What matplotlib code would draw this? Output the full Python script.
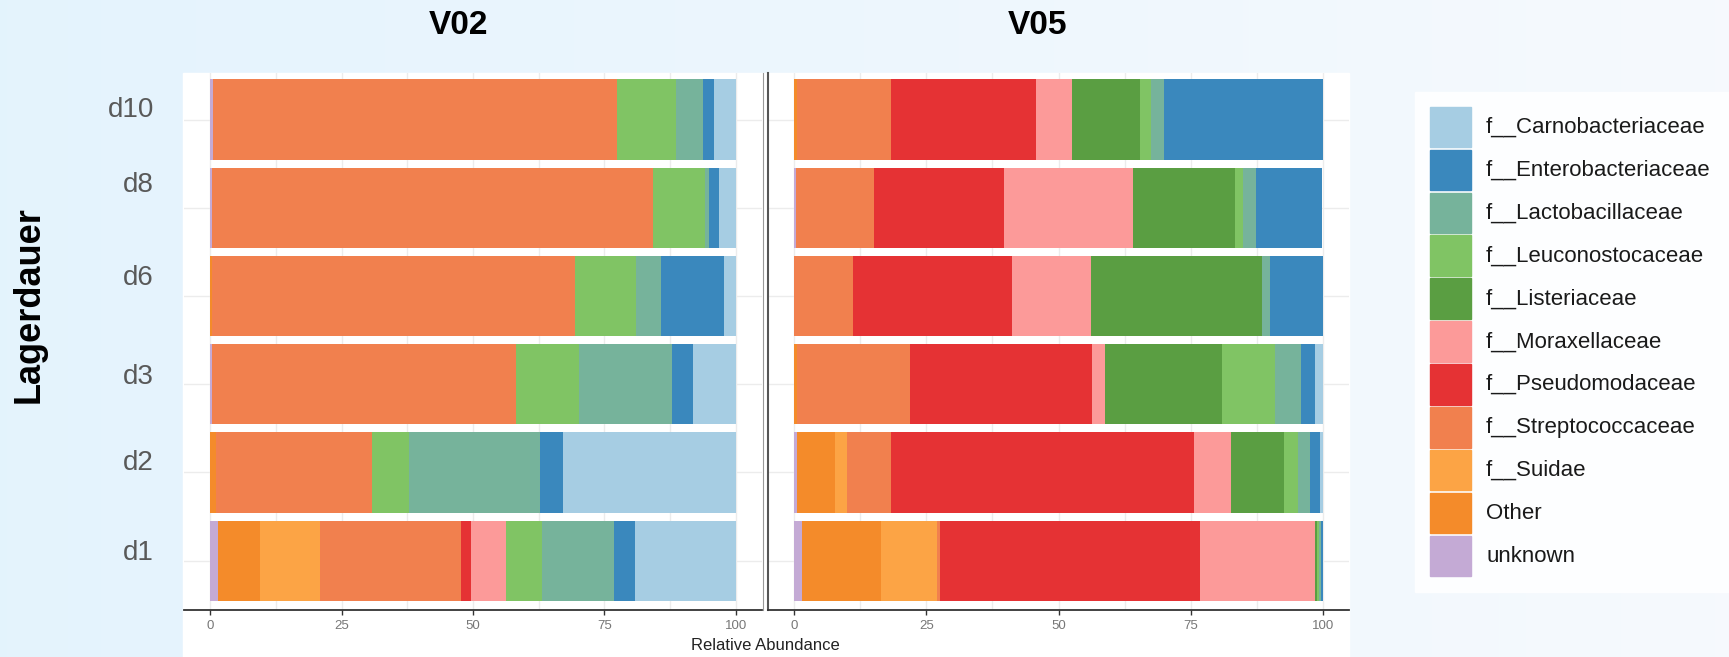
import numpy as np
import matplotlib
matplotlib.use("Agg")
import matplotlib.pyplot as plt
from matplotlib.patches import Rectangle
from matplotlib.lines import Line2D

# ---------------- data ----------------
days = ["d1", "d2", "d3", "d6", "d8", "d10"]
families = ["f__Carnobacteriaceae", "f__Enterobacteriaceae", "f__Lactobacillaceae",
            "f__Leuconostocaceae", "f__Listeriaceae", "f__Moraxellaceae",
            "f__Pseudomodaceae", "f__Streptococcaceae", "f__Suidae", "Other", "unknown"]
colors = ["#a6cde3", "#3a88bd", "#76b39b", "#80c464", "#5a9e42", "#fc9a99",
          "#e53234", "#f1804e", "#fca445", "#f48b2a", "#c4aad5"]

# values per family, ordered like `days`
v02_carno  = [19.1, 32.9, 8.1, 2.3, 3.2, 4.1]
v02_entero = [4.1, 4.4, 4.0, 11.9, 1.9, 2.1]
v02_lacto  = [13.6, 24.9, 17.7, 4.8, 0.7, 5.2]
v02_leucon = [7.0, 7.1, 12.1, 11.5, 10.0, 11.2]
v02_lister = [0.0, 0.0, 0.0, 0.0, 0.0, 0.0]
v02_morax  = [6.6, 0.0, 0.0, 0.0, 0.0, 0.0]
v02_pseudo = [1.8, 0.0, 0.0, 0.0, 0.0, 0.0]
v02_strep  = [26.9, 29.7, 57.7, 69.2, 83.8, 76.9]
v02_suidae = [11.4, 0.0, 0.0, 0.0, 0.0, 0.0]
v02_other  = [8.1, 1.0, 0.0, 0.3, 0.0, 0.0]
v02_unknown = [1.4, 0.0, 0.4, 0.0, 0.4, 0.5]

v05_carno  = [0.0, 0.5, 1.5, 0.0, 0.0, 0.0]
v05_entero = [0.3, 1.9, 2.5, 10.0, 12.5, 30.1]
v05_lacto  = [0.4, 2.3, 5.0, 1.4, 2.6, 2.3]
v05_leucon = [0.3, 2.7, 10.1, 0.0, 1.4, 2.2]
v05_lister = [0.4, 9.9, 22.1, 32.5, 19.4, 12.9]
v05_morax  = [21.9, 7.0, 2.5, 14.9, 24.4, 6.7]
v05_pseudo = [49.1, 57.4, 34.4, 30.2, 24.6, 27.5]
v05_strep  = [0.6, 8.3, 21.4, 11.0, 14.7, 17.8]
v05_suidae = [10.7, 2.3, 0.0, 0.0, 0.0, 0.0]
v05_other  = [14.8, 7.2, 0.5, 0.0, 0.0, 0.5]
v05_unknown = [1.5, 0.5, 0.0, 0.0, 0.35, 0.0]

v02 = [v02_carno, v02_entero, v02_lacto, v02_leucon, v02_lister, v02_morax,
       v02_pseudo, v02_strep, v02_suidae, v02_other, v02_unknown]
v05 = [v05_carno, v05_entero, v05_lacto, v05_leucon, v05_lister, v05_morax,
       v05_pseudo, v05_strep, v05_suidae, v05_other, v05_unknown]
x_ticks = [0, 25, 50, 75, 100]

# ---------------- figure ----------------
W, H = 1729, 657
fig = plt.figure(figsize=(W / 100, H / 100), dpi=100)

def fx(x):
    return x / W

def fy(y):
    return 1 - y / H

# gradient background
bg = fig.add_axes([0, 0, 1, 1], zorder=-10)
grad = np.linspace(0, 1, 256)
c0 = np.array([0.894, 0.953, 0.992])
c1 = np.array([0.965, 0.980, 0.996])
img = c0[None, :] + (c1 - c0)[None, :] * grad[:, None]
bg.imshow(img[None, :, :], aspect="auto", extent=[0, 1, 0, 1])
bg.set_xlim(0, 1); bg.set_ylim(0, 1)
bg.axis("off")
# white plot area & legend box
bg.add_patch(Rectangle((fx(183), 0), fx(1349) - fx(183), fy(73), color="white", zorder=1))
bg.add_patch(Rectangle((fx(1415), fy(592)), fx(1729) - fx(1415), fy(92) - fy(592),
                       color="#fdfeff", zorder=1))

font = "Liberation Sans"
narrow = ["Liberation Sans Narrow", "Liberation Sans"]

ylo, yhi = 0.441, 6.528
pos = np.arange(1, len(days) + 1)

def panel(rect, data, left_spine):
    ax = fig.add_axes(rect)
    ax.set_facecolor("white")
    ax.set_xlim(-5, 105)
    ax.set_ylim(ylo, yhi)
    for xg in np.arange(0, 100.1, 12.5):
        ax.axvline(xg, color="#ececec", lw=1.0, zorder=0)
    for p in pos:
        ax.axhline(p, color="#ececec", lw=1.0, zorder=0)
    left = np.zeros(len(days))
    order = list(range(len(families)))[::-1]
    for i in order:
        vals = np.array(data[i])
        ax.barh(pos, vals, left=left, height=0.91, color=colors[i], lw=0, zorder=2)
        left += vals
    for s in ["top", "right", "left"]:
        ax.spines[s].set_visible(False)
    ax.spines["bottom"].set_color("#333333")
    ax.spines["bottom"].set_linewidth(1.3)
    if left_spine:
        ax.spines["left"].set_visible(True)
        ax.spines["left"].set_color("#555555")
        ax.spines["left"].set_linewidth(1.5)
    ax.set_yticks([])
    ax.set_xticks(x_ticks)
    ax.set_xticklabels([str(t) for t in x_ticks], family=narrow, fontsize=9.5, color="#777777")
    ax.tick_params(axis="x", length=3.5, width=1.0, color="#333333", pad=3.5)
    return ax

axL = panel([fx(184), fy(610), fx(762) - fx(184), fy(73) - fy(610)], v02, False)
axR = panel([fx(768), fy(610), fx(1349) - fx(768), fy(73) - fy(610)], v05, True)

# thin border line at right of left panel
fig.add_artist(Line2D([fx(762.5), fx(762.5)], [fy(610), fy(73)], color="#999999", lw=0.8))

# titles
fig.text(fx(459), fy(25), "V02", ha="center", va="center", family=font,
         fontweight="bold", fontsize=24, color="black")
fig.text(fx(1038), fy(25), "V05", ha="center", va="center", family=font,
         fontweight="bold", fontsize=24, color="black")

# y labels (as placed in reference)
ylab_y = [553, 463, 377, 278, 185, 110]
for d, yy in zip(days, ylab_y):
    fig.text(fx(154), fy(yy), d, ha="right", va="center", family=font,
             fontsize=20, color="#595959")

fig.text(fx(29), fy(305), "Lagerdauer", ha="center", va="center", rotation=90,
         family=font, fontweight="bold", fontsize=26, color="black")

fig.text(fx(765), fy(645), "Relative Abundance", ha="center", va="center",
         family=narrow, fontsize=12, color="#222222")

# legend
leg_top = 106.7
step = 42.9
for k, (name, col) in enumerate(zip(families, colors)):
    y0 = leg_top + k * step
    fig.patches.append(Rectangle((fx(1430), fy(y0 + 40.5)), fx(1471) - fx(1430),
                                 fy(y0) - fy(y0 + 40.5), color=col,
                                 transform=fig.transFigure, figure=fig))
    fig.text(fx(1486), fy(y0 + 20.5), name, ha="left", va="center", family=font,
             fontsize=16, color="#1a1a1a")

fig.savefig("out.png", dpi=100)
